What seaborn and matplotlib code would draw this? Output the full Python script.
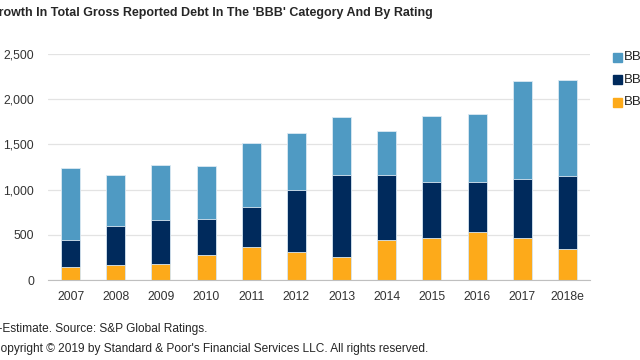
import matplotlib
matplotlib.use("Agg")
import matplotlib.pyplot as plt
import seaborn as sns
import pandas as pd
import numpy as np

years = ['2007', '2008', '2009', '2010', '2011', '2012', '2013', '2014', '2015', '2016', '2017', '2018e']
bbb_plus = [150, 165, 180, 280, 365, 310, 255, 440, 470, 535, 465, 345]
bbb_minus = [290, 435, 480, 395, 445, 690, 910, 725, 610, 555, 655, 810]
bbb = [795, 565, 615, 590, 705, 625, 640, 485, 730, 745, 1080, 1055]

labels = ['BBB', 'BBB-', 'BBB+']
colors = ['#4f9ac3', '#002a5c', '#fdaa1a']

sns.set_style("white")
plt.rcParams['font.family'] = ['Liberation Sans', 'DejaVu Sans']

df = pd.DataFrame({'year': years, 'plus': bbb_plus, 'minus': bbb_minus, 'mid': bbb})
df['lvl2'] = df['plus'] + df['minus']
df['lvl3'] = df['lvl2'] + df['mid']

fig = plt.figure(figsize=(6.4, 3.6), dpi=100)
ax = fig.add_axes([0.075, 0.222, 0.847, 0.628])

# stacked look: draw cumulative totals front to back
for col, c in zip(['lvl3', 'lvl2', 'plus'], colors):
    sns.barplot(data=df, x='year', y=col, color=c, width=0.42, ax=ax,
                edgecolor='#dbe9f3', linewidth=0.6, saturation=1)

ax.set_ylim(0, 2500)
ax.set_xlim(-0.5, len(years) - 0.5)
ax.set_yticks(np.arange(0, 2501, 500))
ax.set_yticklabels([f'{v:,}' for v in range(0, 2501, 500)])
ax.yaxis.grid(True, color='#e3e3e3', linewidth=0.9)
ax.set_axisbelow(True)
ax.set_xlabel('')
ax.set_ylabel('')
for s in ['top', 'right', 'left']:
    ax.spines[s].set_visible(False)
ax.spines['bottom'].set_color('#bfbfbf')
ax.tick_params(axis='y', length=0, labelsize=8.8, labelcolor='#333333', pad=10)
ax.tick_params(axis='x', length=0, labelsize=8.8, labelcolor='#333333', pad=8)
ax.set_xticks(np.arange(-0.5, len(years)), minor=True)
ax.tick_params(axis='x', which='minor', length=4, color='#bfbfbf', width=0.8)

fig.text(-0.0165, 0.965, "Growth In Total Gross Reported Debt In The 'BBB' Category And By Rating",
         fontsize=9.0, fontweight='bold', ha='left', va='center')

# legend (cut off at the right edge like the source)
for i, (lab, c) in enumerate(zip(labels, colors)):
    y = 0.842 - i * 0.063
    fig.patches.append(plt.Rectangle((0.958, y - 0.013), 0.014, 0.025, color=c,
                                     transform=fig.transFigure, figure=fig))
    fig.text(0.975, y, lab, fontsize=9.5, va='center', ha='left', color='#222222')

fig.text(-0.019, 0.086, "e--Estimate. Source: S&P Global Ratings.", fontsize=8.6, ha='left', va='center')
fig.text(-0.013, 0.030, "Copyright \u00a9 2019 by Standard & Poor's Financial Services LLC. All rights reserved.",
         fontsize=8.6, ha='left', va='center')

fig.savefig('out.png', dpi=100)
